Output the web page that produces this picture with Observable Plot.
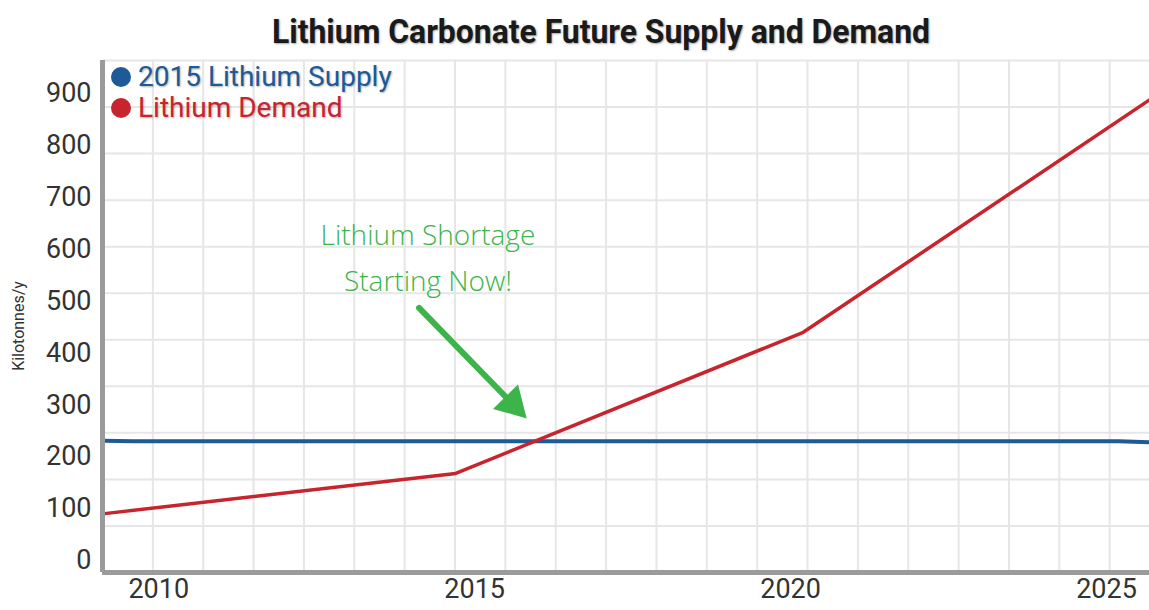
<!DOCTYPE html>
<html>
<head>
<meta charset="utf-8">
<script src="https://cdn.jsdelivr.net/npm/d3@7"></script>
<script src="https://cdn.jsdelivr.net/npm/@observablehq/plot@0.6"></script>
<style>
  html, body { margin: 0; padding: 0; background: #fff; overflow: hidden; }
  #wrap { position: relative; width: 1149px; height: 610px; }
  #title { height: 58px; position: relative; }
  #title span { position: absolute; left: 601px; top: 31px; white-space: nowrap; font-family: Roboto, sans-serif; font-weight: 700; font-size: 33px; color: #1a1a1a; text-shadow: 1px 1px 2px rgba(0,0,0,0.35); transform-origin: center center; }
  #ylabel { position: absolute; left: 18px; top: 326px; transform: translate(-50%, -50%) rotate(-90deg); font-family: Roboto, sans-serif; font-size: 16px; color: #333; white-space: nowrap; }
  #legend { position: absolute; left: 111px; top: 62px; font-family: Roboto, sans-serif; font-size: 28px; line-height: 30.5px; text-shadow: 1px 1px 2px rgba(0,0,0,0.3); }
  #legend .item { display: flex; align-items: center; white-space: nowrap; }
  #legend .dot { width: 20px; height: 20px; border-radius: 50%; margin-right: 7px; display: inline-block; }
</style>
</head>
<body>
<div id="wrap">
  <div id="title"><span></span></div>
  <div id="chart"></div>
  <div id="ylabel"></div>
  <div id="legend"></div>
</div>
<script>
// ---- data ----
const titleText = "Lithium Carbonate Future Supply and Demand";
const yAxisLabel = "Kilotonnes/y";
const seriesNames = ["2015 Lithium Supply", "Lithium Demand"];
const seriesColors = ["#1d5a97", "#c8242d"];

const supplyYears = [2009.11, 2009.6, 2025.2, 2025.68];
const supplyKt    = [231, 230, 230, 228];

const demandYears = [2009.11, 2014.7, 2020.2, 2025.68];
const demandKt    = [90, 168, 440, 888];

const xTicks = [2010, 2015, 2020, 2025];
const yTicks = [0, 100, 200, 300, 400, 500, 600, 700, 800, 900];
const xDomain = [2009.11, 2025.68];
const yDomain = [-23, 964];

const noteText = "Lithium Shortage\nStarting Now!";
const noteX = [2014.26];
const noteY = [592];
const arrowFrom = [2014.12, 487];
const arrowTo = [2015.6, 302];

// ---- build ----
const tspan = document.querySelector("#title span");
tspan.textContent = titleText;
const tw = tspan.getBoundingClientRect().width;
tspan.style.transform = `translate(-50%, -50%) scaleX(${658 / tw})`;

document.getElementById("ylabel").textContent = yAxisLabel;
const legend = document.getElementById("legend");
seriesNames.forEach((n, i) => {
  const d = document.createElement("div");
  d.className = "item";
  d.style.color = seriesColors[i];
  d.innerHTML = `<span class="dot" style="background:${seriesColors[i]}"></span>${n}`;
  legend.appendChild(d);
});

const supply = supplyYears.map((x, i) => ({x, y: supplyKt[i]}));
const demand = demandYears.map((x, i) => ({x, y: demandKt[i]}));

const gridStepX = 0.797;
const gridX = d3.range(xDomain[0], xDomain[1], gridStepX);
const gridY = d3.range(12).map(i => yDomain[0] + i * (yDomain[1] - yDomain[0]) / 11);

const base = {
  width: 1149, height: 552,
  marginTop: 2, marginBottom: 38, marginLeft: 102, marginRight: 0,
  x: {domain: xDomain, ticks: xTicks, tickFormat: d => String(d), tickSize: 0, tickPadding: 6, label: null},
  y: {domain: yDomain, ticks: yTicks, tickSize: 0, tickPadding: 11, label: null},
  style: {fontFamily: "Roboto, sans-serif", fontSize: "27px", color: "#333", background: "white", overflow: "visible"}
};

// first pass for pixel scales (arrow head rotation)
const probe = Plot.plot({...base, marks: []});
const sx = probe.scale("x"), sy = probe.scale("y");
const px1 = sx.apply(arrowFrom[0]), py1 = sy.apply(arrowFrom[1]);
const px2 = sx.apply(arrowTo[0]), py2 = sy.apply(arrowTo[1]);
const ang = Math.atan2(py2 - py1, px2 - px1) * 180 / Math.PI + 90;

const green = "#3cb44a";
const chart = Plot.plot({
  ...base,
  marks: [
    Plot.ruleY(gridY, {stroke: "#e6e6e6", strokeWidth: 2}),
    Plot.ruleX(gridX, {stroke: "#e6e6e6", strokeWidth: 2}),
    Plot.line(supply, {x: "x", y: "y", stroke: seriesColors[0], strokeWidth: 4}),
    Plot.line(demand, {x: "x", y: "y", stroke: seriesColors[1], strokeWidth: 3.5, strokeLinejoin: "round"}),
    Plot.ruleX([xDomain[0]], {stroke: "#9b9b9b", strokeWidth: 5}),
    Plot.ruleY([yDomain[0]], {stroke: "#9b9b9b", strokeWidth: 5}),
    Plot.link([0], {x1: () => arrowFrom[0], y1: () => arrowFrom[1], x2: () => arrowTo[0], y2: () => arrowTo[1], stroke: green, strokeWidth: 6, strokeLinecap: "round"}),
    Plot.dot([0], {x: () => arrowTo[0], y: () => arrowTo[1], symbol: "triangle", r: 13, fill: green, stroke: "none", rotate: ang}),
    Plot.text([0], {x: () => noteX[0], y: () => noteY[0], text: () => noteText, fill: green, fontSize: 28, lineHeight: 1.65, fontFamily: "'Open Sans', sans-serif", fontWeight: 300})
  ]
});
document.getElementById("chart").appendChild(chart);
</script>
</body>
</html>
